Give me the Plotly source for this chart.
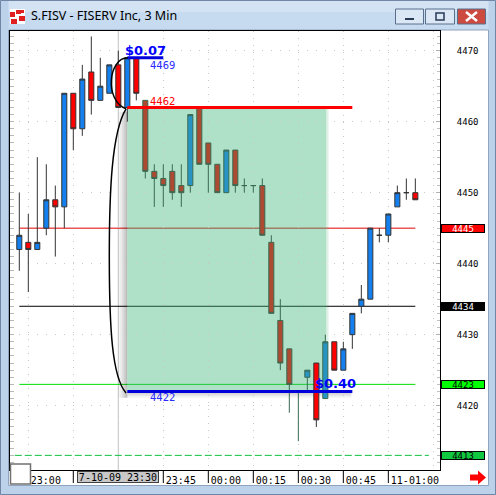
import plotly.graph_objects as go

# ---------------- data (3-minute bars, prices in cents) ----------------
times = ["22:57", "23:00", "23:03", "23:06", "23:09", "23:12", "23:15", "23:18", "23:21", "23:24",
         "23:27", "23:30", "23:33", "23:36", "23:39", "23:42", "23:45", "23:48", "23:51", "23:54",
         "23:57", "00:00", "00:03", "00:06", "00:09", "00:12", "00:15", "00:18", "00:21", "00:24",
         "00:27", "00:30", "00:33", "00:36", "00:39", "00:42", "00:45", "00:48", "00:51", "00:54",
         "00:57", "01:00", "01:03", "01:06", "01:09"]
opens = [4442, 4443, 4442, 4445, 4449, 4448, 4464, 4459, 4467, 4463,
         4464, 4468, 4462, 4469, 4463, 4453, 4452, 4453, 4451, 4451,
         4462, 4457, 4454, 4450, 4456, 4451, 4451, 4451, 4443, 4432,
         4428, 4422, 4424, 4426, 4421, 4429, 4425, 4430, 4434, 4435,
         4444, 4444, 4448, 4450, 4450]
highs = [4450, 4447, 4455, 4454, 4451, 4464, 4464, 4468, 4472, 4469,
         4468, 4470, 4469, 4469, 4463, 4454, 4454, 4454, 4454, 4461,
         4462, 4457, 4454, 4456, 4456, 4452, 4451, 4452, 4444, 4435,
         4428, 4422, 4425, 4426, 4430, 4429, 4429, 4433, 4437, 4445,
         4445, 4447, 4451, 4452, 4452]
lows = [4439, 4436, 4442, 4444, 4441, 4445, 4456, 4458, 4461, 4463,
        4464, 4462, 4460, 4463, 4452, 4448, 4448, 4449, 4448, 4450,
        4454, 4450, 4450, 4450, 4450, 4450, 4450, 4444, 4433, 4425,
        4419, 4415, 4422, 4417, 4421, 4425, 4425, 4428, 4433, 4435,
        4443, 4443, 4448, 4449, 4449]
closes = [4444, 4442, 4443, 4449, 4448, 4464, 4459, 4466, 4463, 4465,
          4468, 4462, 4469, 4464, 4453, 4452, 4451, 4450, 4450, 4461,
          4454, 4454, 4450, 4456, 4451, 4451, 4451, 4444, 4433, 4426,
          4423, 4422, 4425, 4418, 4429, 4425, 4428, 4433, 4435, 4445,
          4444, 4447, 4450, 4450, 4449]

# bars that sit under the green measuring box (drawn with blended colours)
zone_bars = list(range(14, 33)) + [34]

tick_idx = [1, 6, 16, 21, 26, 31, 36, 41]
tick_text = ["23:00", "", "23:45", "00:00", "00:15", "00:30", "00:45", "11-01:00"]
cursor_idx = 11
cursor_label = "7-10-09 23:30"

y_ticks = [4420, 4430, 4440, 4450, 4460, 4470]

level_red, level_black, level_green, level_dash = 4445, 4434, 4423, 4413
box_top, box_bottom = 4462, 4422
high_mark = 4469
box_first, box_last, box_fill_end, high_line_end = 12, 37, 34.1, 16
move_up, move_down = "$0.07", "$0.40"

# ---------------- geometry helpers (window chrome only) ----------------
W, H = 496, 495
PL, PR, PT, PB = 10, 440, 31, 470


def px(x):
    return (x - PL) / (PR - PL)


def py(y):
    return (PB - y) / (PB - PT)


n = len(times)
xs = list(range(n))
out_idx = [i for i in xs if i not in zone_bars]
in_idx = [i for i in xs if i in zone_bars]


def sel(arr, idx):
    return [arr[i] for i in idx]


fig = go.Figure()
fig.add_trace(go.Candlestick(
    x=out_idx, open=sel(opens, out_idx), high=sel(highs, out_idx),
    low=sel(lows, out_idx), close=sel(closes, out_idx),
    increasing=dict(line=dict(color="#333333", width=1), fillcolor="#1480f0"),
    decreasing=dict(line=dict(color="#333333", width=1), fillcolor="#ff0000"),
    whiskerwidth=0, showlegend=False, hoverinfo="skip"))
fig.add_trace(go.Candlestick(
    x=in_idx, open=sel(opens, in_idx), high=sel(highs, in_idx),
    low=sel(lows, in_idx), close=sel(closes, in_idx),
    increasing=dict(line=dict(color="#3a6a52", width=1), fillcolor="#2794c4"),
    decreasing=dict(line=dict(color="#3a6a52", width=1), fillcolor="#ad4a32"),
    whiskerwidth=0, showlegend=False, hoverinfo="skip"))

shapes = []
# ---- window chrome ----
blue = "#bcd2ea"
shapes.append(dict(type="rect", xref="paper", yref="paper", x0=px(0), x1=px(W), y0=py(0), y1=py(30),
                   fillcolor="#c6daf0", line=dict(width=0), layer="below"))
shapes.append(dict(type="rect", xref="paper", yref="paper", x0=px(0), x1=px(W), y0=py(0), y1=py(12),
                   fillcolor="#d4e3f4", line=dict(width=0), layer="below"))
shapes.append(dict(type="rect", xref="paper", yref="paper", x0=px(0), x1=px(8.5), y0=py(0), y1=py(H),
                   fillcolor=blue, line=dict(width=0), layer="below"))
shapes.append(dict(type="rect", xref="paper", yref="paper", x0=px(488.5), x1=px(W), y0=py(0), y1=py(H),
                   fillcolor=blue, line=dict(width=0), layer="below"))
shapes.append(dict(type="rect", xref="paper", yref="paper", x0=px(0), x1=px(W), y0=py(485.5), y1=py(H),
                   fillcolor=blue, line=dict(width=0), layer="below"))
shapes.append(dict(type="rect", xref="paper", yref="paper", x0=px(0.5), x1=px(W - 0.5), y0=py(0.5), y1=py(H - 0.5),
                   fillcolor="rgba(0,0,0,0)", line=dict(width=1, color="#6f87a5"), layer="below"))
shapes.append(dict(type="rect", xref="paper", yref="paper", x0=px(8.5), x1=px(488.5), y0=py(30), y1=py(485.5),
                   fillcolor="rgba(0,0,0,0)", line=dict(width=1, color="#8ea4bf"), layer="below"))
# icon
shapes.append(dict(type="rect", xref="paper", yref="paper", x0=px(10), x1=px(25), y0=py(9), y1=py(24),
                   fillcolor="#ffffff", line=dict(width=0), layer="below"))
for (a, b, c, d) in [(10, 15, 12, 17), (16, 21, 10, 14), (19, 25, 16, 21), (11, 17, 19, 24), (21, 24, 10, 13)]:
    shapes.append(dict(type="rect", xref="paper", yref="paper", x0=px(a), x1=px(b), y0=py(c), y1=py(d),
                       fillcolor="#e02020", line=dict(width=0), layer="below"))
# window buttons
for (a, b, col) in [(395.5, 423.5, "#dbe7f5"), (425.5, 454.5, "#dbe7f5"), (457.5, 485.5, "#cc4a3f")]:
    shapes.append(dict(type="rect", xref="paper", yref="paper", x0=px(a), x1=px(b), y0=py(9), y1=py(24),
                       fillcolor=col, line=dict(width=1, color="#5a6f8c"), layer="below"))
shapes.append(dict(type="rect", xref="paper", yref="paper", x0=px(405), x1=px(414), y0=py(18), y1=py(20),
                   fillcolor="#2a3a55", line=dict(width=0), layer="below"))
shapes.append(dict(type="rect", xref="paper", yref="paper", x0=px(436), x1=px(444), y0=py(13), y1=py(20),
                   fillcolor="rgba(0,0,0,0)", line=dict(width=1.5, color="#2a3a55"), layer="below"))
shapes.append(dict(type="path", xref="paper", yref="paper",
                   path="M {0},{1} L {2},{3} M {0},{3} L {2},{1}".format(px(466), py(12), px(477), py(21)),
                   line=dict(width=2.5, color="#ffffff"), layer="below"))
# bottom-left box and red arrow
shapes.append(dict(type="rect", xref="paper", yref="paper", x0=px(10.5), x1=px(30.5), y0=py(464), y1=py(484),
                   fillcolor="#ffffff", line=dict(width=1.5, color="#707070"), layer="above"))
arrow = "M {} {} L {} {} L {} {} L {} {} L {} {} L {} {} L {} {} Z".format(
    px(470), py(474.5), px(478), py(474.5), px(478), py(470.5), px(486), py(477.5),
    px(478), py(484.5), px(478), py(480.5), px(470), py(480.5))
shapes.append(dict(type="path", xref="paper", yref="paper", path=arrow, fillcolor="#ff0000",
                   line=dict(width=0), layer="above"))
# time-axis separators
for k in tick_idx:
    shapes.append(dict(type="line", xref="x", yref="paper", x0=k, x1=k, y0=py(471), y1=py(483),
                       line=dict(width=1, color="#000000"), layer="below"))

# ---- chart drawing objects ----
shapes.append(dict(type="line", xref="x", yref="paper", x0=cursor_idx, x1=cursor_idx, y0=0, y1=1,
                   line=dict(width=1, color="#c4c4c4"), layer="below"))
for lvl, col in [(level_red, "#e00000"), (level_black, "#000000"), (level_green, "#00dd00")]:
    shapes.append(dict(type="line", xref="x", yref="y", x0=0, x1=n - 1, y0=lvl, y1=lvl,
                       line=dict(width=1, color=col), layer="below"))
shapes.append(dict(type="line", xref="x", yref="y", x0=-0.5, x1=n + 0.5, y0=level_dash, y1=level_dash,
                   line=dict(width=1, color="#10c040", dash="7px,3px"), layer="below"))
# shadow of the measuring box
for i, a in enumerate([0.04, 0.08, 0.13, 0.19, 0.26]):
    x0 = box_first - 1.0 + i * 0.2
    shapes.append(dict(type="rect", xref="x", yref="y", x0=x0, x1=x0 + 0.2, y0=box_bottom - 0.9,
                       y1=box_top - 0.6, fillcolor="rgba(0,0,0,%.2f)" % a, line=dict(width=0), layer="below"))
for i, a in enumerate([0.22, 0.12, 0.05]):
    shapes.append(dict(type="rect", xref="x", yref="y", x0=box_first, x1=box_last - 0.1,
                       y0=box_bottom - 0.3 * (i + 1), y1=box_bottom - 0.3 * i,
                       fillcolor="rgba(0,0,0,%.2f)" % a, line=dict(width=0), layer="below"))
shapes.append(dict(type="rect", xref="x", yref="y", x0=box_first, x1=box_fill_end, y0=box_bottom, y1=box_top,
                   fillcolor="rgba(65,180,123,0.42)", line=dict(width=0), layer="below"))
shapes.append(dict(type="rect", xref="x", yref="y", x0=box_fill_end, x1=box_fill_end + 0.25, y0=box_bottom,
                   y1=box_top, fillcolor="rgba(65,180,123,0.18)", line=dict(width=0), layer="below"))
# measuring lines
shapes.append(dict(type="line", xref="x", yref="y", x0=box_first, x1=box_last, y0=box_top, y1=box_top,
                   line=dict(width=3, color="#ff0000"), layer="above"))
shapes.append(dict(type="line", xref="x", yref="y", x0=box_first, x1=box_last, y0=box_bottom, y1=box_bottom,
                   line=dict(width=3, color="#0000dd"), layer="above"))
shapes.append(dict(type="line", xref="x", yref="y", x0=box_first, x1=high_line_end, y0=high_mark, y1=high_mark,
                   line=dict(width=3, color="#0000dd"), layer="above"))
# hand-drawn curves
small = "M 12.05,{h} C 9.9,{h} 9.4,4463.0 11.86,{t}".format(h=high_mark, t=box_top - 0.2)
big = "M 11.86,{t} C 10.25,4458.5 10.0,4450 10.0,4441 C 10.0,4431 10.3,4424 11.86,{b}".format(
    t=box_top - 0.2, b=box_bottom - 0.2)
for p in (small, big):
    shapes.append(dict(type="path", xref="x", yref="y", path=p, line=dict(width=1.5, color="#000000"),
                       layer="above"))

annotations = []
annotations.append(dict(text="S.FISV - FISERV Inc, 3 Min", xref="paper", yref="paper", x=px(29), y=py(16),
                        xanchor="left", yanchor="middle", showarrow=False,
                        font=dict(family="Noto Sans", size=12.5, color="#000000")))
mono = "DejaVu Sans Mono"
annotations.append(dict(text=move_up, xref="x", yref="y", x=11.5, y=4470.0, xanchor="left", yanchor="middle",
                        showarrow=False, font=dict(family="DejaVu Sans", size=13, color="#0000ff", weight="bold")))
annotations.append(dict(text=move_down, xref="x", yref="y", x=32.6, y=4423.1, xanchor="left", yanchor="middle",
                        showarrow=False, font=dict(family="DejaVu Sans", size=13, color="#0000ff", weight="bold")))
annotations.append(dict(text=str(high_mark), xref="x", yref="y", x=14.3, y=4468.0, xanchor="left",
                        yanchor="middle", showarrow=False, font=dict(family=mono, size=10.5, color="#2a2aff")))
annotations.append(dict(text=str(box_top), xref="x", yref="y", x=14.3, y=4462.9, xanchor="left",
                        yanchor="middle", showarrow=False, font=dict(family=mono, size=10.5, color="#ff0000")))
annotations.append(dict(text=str(box_bottom), xref="x", yref="y", x=14.3, y=4421.2, xanchor="left",
                        yanchor="middle", showarrow=False, font=dict(family=mono, size=10.5, color="#2a2aff")))
# price markers on the right scale
for lvl, bg, fg in [(level_red, "#ff0000", "#ffffff"), (level_black, "#000000", "#ffffff"),
                    (level_green, "#00ff00", "#000000"), (level_dash, "#10c840", "#000000")]:
    annotations.append(dict(text=str(lvl), xref="paper", yref="y", x=px(441), y=lvl, xanchor="left",
                            yanchor="middle", showarrow=False, width=42, height=7, borderpad=0,
                            bgcolor=bg, bordercolor="#000000", borderwidth=1, align="center",
                            font=dict(family=mono, size=9, color=fg)))
# crosshair time box
annotations.append(dict(text=cursor_label, xref="x", yref="paper", x=cursor_idx, y=py(477), xanchor="center",
                        yanchor="middle", showarrow=False, width=80, height=10, borderpad=0,
                        bgcolor="#c8c8c8", bordercolor="#404040", borderwidth=1,
                        font=dict(family=mono, size=10, color="#000000")))

fig.update_layout(
    width=W, height=H, margin=dict(l=PL, r=W - PR, t=PT, b=H - PB),
    paper_bgcolor="#ffffff", plot_bgcolor="#ffffff", boxgap=0.2,
    shapes=shapes, annotations=annotations, showlegend=False, hovermode=False,
    xaxis=dict(range=[-1.033, 46.74], rangeslider=dict(visible=False), showgrid=False, zeroline=False,
               tickmode="array", tickvals=tick_idx, ticktext=tick_text, ticks="", tickangle=0,
               ticklabelposition="outside right", ticklabelshift=2, ticklabelstandoff=1,
               tickfont=dict(family=mono, size=10, color="#000000"),
               showline=True, linecolor="#000000", linewidth=1, mirror=True,
               minor=dict(tick0=1, dtick=5, showgrid=True, gridcolor="#c8c8c8", griddash="1px,6px",
                          gridwidth=1, ticks="")),
    yaxis=dict(range=[4410.94, 4472.77], side="right", tickmode="array", tickvals=y_ticks,
               ticks="inside", ticklen=4, tickcolor="#b0b0b0", ticklabelstandoff=14,
               tickfont=dict(family=mono, size=9, color="#000000"),
               showgrid=True, gridcolor="#c8c8c8", griddash="1px,8px", zeroline=False,
               showline=True, linecolor="#000000", linewidth=1, mirror=True,
               minor=dict(dtick=1, ticks="inside", ticklen=3, tickcolor="#c0c0c0", showgrid=False)),
    yaxis2=dict(range=[4410.94, 4472.77], overlaying="y", side="left", showticklabels=False,
                ticks="inside", ticklen=4, tickcolor="#b8b8b8", tickmode="linear", tick0=4410, dtick=1,
                showgrid=False, zeroline=False, showline=False),
)
# invisible trace to activate the left tick axis
fig.add_trace(go.Scatter(x=[0], y=[4440], yaxis="y2", mode="markers", marker=dict(opacity=0),
                         showlegend=False, hoverinfo="skip"))

fig.write_html("out.html", config={"displayModeBar": False},
               post_script="document.body.style.margin='0';document.body.style.padding='0';")
